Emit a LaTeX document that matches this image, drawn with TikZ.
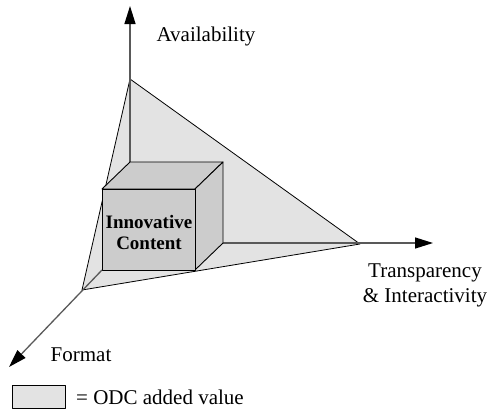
\documentclass[tikz,border=0pt]{standalone}
\usepackage{fontspec}
\setmainfont{Liberation Serif}
\usetikzlibrary{arrows.meta}
\tikzset{
  axisline/.style={draw=black!65, line width=1.3pt, -{Triangle[length=18pt,width=11pt,black]}},
  plane/.style={fill=black!11, draw=black, line width=0.8pt, line join=round},
  cubeface/.style={fill=black!20, draw=black, line width=0.9pt, line join=round},
  lbl/.style={font=\fontsize{21}{25}\selectfont, inner sep=0pt, align=center},
}
\begin{document}
\begin{tikzpicture}[x=1pt,y=-1pt]
\useasboundingbox (0,0) rectangle (490,410);
% key points
\coordinate (A) at (130,79);
\coordinate (T) at (360,244);
\coordinate (F) at (82,290);
\coordinate (ftl) at (102,189);
\coordinate (ftr) at (195,189);
\coordinate (fbr) at (195,270);
\coordinate (fbl) at (102,270);
\coordinate (btl) at (130,162);
\coordinate (btr) at (223,162);
\coordinate (bbr) at (223,243);
\coordinate (upTip) at (130,6);
\coordinate (rightTip) at (433,243);
\coordinate (downTip) at (9,367);
% plane
\path[plane] (A) -- (T) -- (F) -- cycle;
% axes
\draw[axisline] (btl) -- (upTip);
\draw[axisline] (bbr) -- (rightTip);
\draw[axisline] (fbl) -- (downTip);
% cube
\draw[cubeface] (ftl) -- (btl) -- (btr) -- (ftr) -- cycle;
\draw[cubeface] (ftr) -- (btr) -- (bbr) -- (fbr) -- cycle;
\draw[cubeface] (ftl) rectangle (fbr);
\node[font=\fontsize{19}{21}\selectfont\bfseries, inner sep=0pt, align=center] (ic) at (149,232) {Innovative\\Content};
% labels
\node[lbl] (avail) at (206,36) {Availability};
\node[lbl] (trans) at (425,285) {Transparency\\\& Interactivity};
\node[lbl] (fmt) at (81,355) {Format};
% legend
\path[plane] (12,385) rectangle (65,408);
\node[lbl, anchor=west] (leg) at (76,397) {= ODC added value};
\end{tikzpicture}
\end{document}
